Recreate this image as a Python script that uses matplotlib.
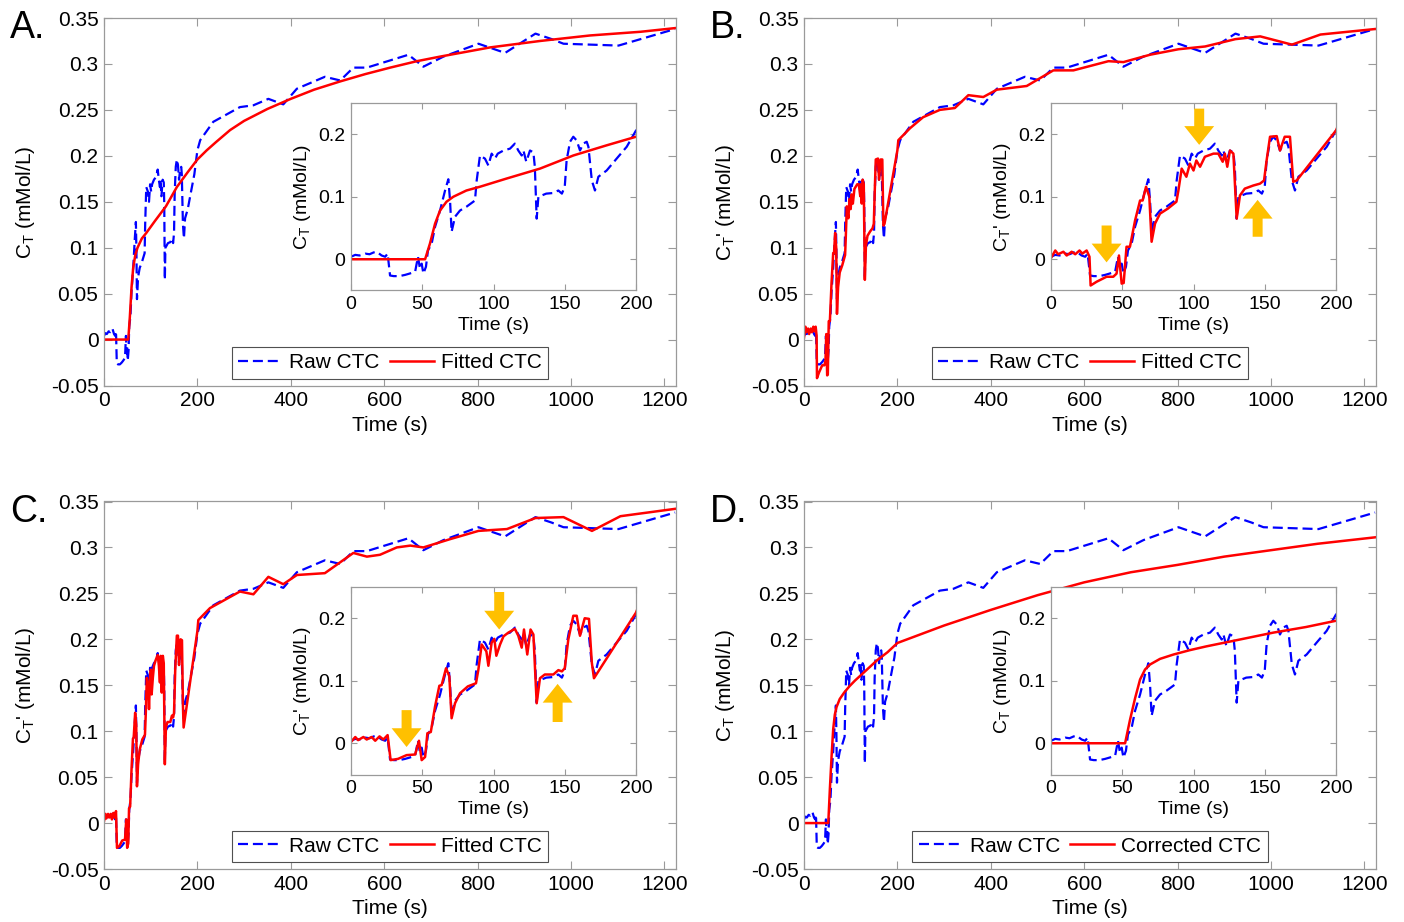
import matplotlib
matplotlib.use("Agg")
import matplotlib.pyplot as plt
from matplotlib.ticker import FuncFormatter, FixedLocator

plt.rcParams['font.family'] = ['Liberation Sans', 'DejaVu Sans']
plt.rcParams['mathtext.fontset'] = 'custom'
plt.rcParams['mathtext.rm'] = 'Liberation Sans'
plt.rcParams['mathtext.it'] = 'Liberation Sans:italic'
plt.rcParams['mathtext.default'] = 'regular'

# ---------------- data ----------------
raw_t = [0, 3, 6, 10, 13, 16, 18, 21.5, 24, 25.7, 27.4, 30, 34, 38, 41, 45, 47, 48.4, 49.6,
         50.8, 52.6, 54, 56.6, 59, 62.5, 66, 68.3, 69.5, 70.6, 73, 76.5, 81, 87, 88.2, 90.5,
         94, 96.4, 98.7, 101, 103, 107, 111.6, 115, 117.4, 119.8, 121, 123, 125.6, 128, 129,
         130.3, 131.5, 133.8, 137, 142, 145.5, 148, 150, 151.3, 153.7, 156, 158.4, 160.7, 163,
         165.4, 166.6, 169, 171.2, 173.6, 179.4, 186.4, 193.5, 200, 206, 234, 291, 320, 352,
         384, 413, 473, 506, 534, 563, 652, 684, 727, 802, 859, 924, 959, 984, 1102, 1223]
raw_v = [0.004, 0.007, 0.006, 0.009, 0.008, 0.011, 0.012, 0.006, 0.004, 0.009, -0.026, -0.027,
         -0.027, -0.025, -0.023, -0.02, 0.004, -0.015, -0.007, -0.023, -0.012, 0.014, 0.025,
         0.052, 0.078, 0.11, 0.128, 0.094, 0.044, 0.068, 0.078, 0.084, 0.094, 0.126, 0.166,
         0.161, 0.15, 0.169, 0.161, 0.169, 0.174, 0.177, 0.185, 0.174, 0.166, 0.174, 0.156,
         0.174, 0.171, 0.148, 0.065, 0.1, 0.102, 0.105, 0.106, 0.11, 0.105, 0.116, 0.158,
         0.188, 0.196, 0.19, 0.174, 0.185, 0.188, 0.18, 0.126, 0.11, 0.132, 0.142, 0.161,
         0.18, 0.206, 0.217, 0.237, 0.253, 0.255, 0.262, 0.256, 0.273, 0.286, 0.282, 0.296,
         0.296, 0.31, 0.297, 0.308, 0.322, 0.312, 0.333, 0.327, 0.322, 0.32, 0.338]

fitA_t = [0, 52, 55.4, 59, 62.5, 67, 71.8, 81, 90.5, 109, 132.6, 156, 179, 200, 220, 240,
          270, 300, 350, 400, 450, 506, 560, 613, 670, 720, 827, 934, 1041, 1149, 1223]
fitA_v = [0, 0, 0.025, 0.057, 0.078, 0.092, 0.1, 0.11, 0.116, 0.129, 0.145, 0.166, 0.182,
          0.196, 0.206, 0.215, 0.228, 0.238, 0.251, 0.262, 0.272, 0.281, 0.289, 0.296, 0.303,
          0.308, 0.318, 0.325, 0.331, 0.335, 0.339]

fitB_t = [0, 3, 5, 8.7, 11, 14.5, 17, 20, 22, 25, 27, 27.8, 32, 39, 43.7, 46, 47.7, 49.6, 51,
          53, 55.4, 59, 62.5, 64.3, 66.7, 69, 70.6, 73, 76.5, 82, 88, 89.4, 91.7, 95, 97.5,
          100, 102, 104.6, 108, 114, 117.4, 120.5, 122, 123.7, 125.6, 128, 130.3, 132.6, 136,
          142, 146.7, 149.5, 151.3, 153.7, 158.4, 160.7, 164, 167.7, 170, 172.4, 200, 202,
          227, 255, 291, 323, 352, 384, 413, 477, 534, 577, 652, 684, 741, 802, 859, 924, 977,
          1045, 1106, 1223]
fitB_v = [0.002, 0.014, 0.008, 0.012, 0.006, 0.012, 0.008, 0.014, 0.009, 0.014, 0.004, -0.042,
          -0.036, -0.028, -0.028, -0.023, 0.006, -0.039, -0.038, 0.02, 0.02, 0.062, 0.094,
          0.094, 0.116, 0.1, 0.028, 0.057, 0.073, 0.081, 0.092, 0.11, 0.145, 0.132, 0.153,
          0.142, 0.158, 0.148, 0.164, 0.169, 0.169, 0.156, 0.169, 0.148, 0.174, 0.169, 0.065,
          0.102, 0.113, 0.118, 0.121, 0.126, 0.158, 0.196, 0.197, 0.174, 0.196, 0.196, 0.124,
          0.126, 0.206, 0.217, 0.23, 0.242, 0.25, 0.252, 0.266, 0.264, 0.272, 0.276, 0.293,
          0.293, 0.303, 0.302, 0.31, 0.316, 0.319, 0.327, 0.33, 0.321, 0.332, 0.338]

fitC_t = [0, 3, 5, 8.7, 11, 14.5, 17, 20, 22.7, 25.7, 27.8, 33, 39, 45, 47.7, 49.6, 52, 53.6,
          56, 59, 62, 63.6, 66.7, 69, 70.6, 73, 76.5, 82, 87.7, 89.4, 91.7, 95, 96.4, 98.7,
          100.6, 102, 104.6, 107, 110.4, 115, 117.4, 119.8, 121.4, 123.7, 126, 128, 130.3,
          132.6, 136, 142, 145.5, 148, 150, 152.5, 156, 158.4, 160.7, 164, 167, 169, 170.5,
          200, 202, 227, 291, 320, 352, 384, 413, 473, 534, 563, 591, 627, 656, 684, 741, 802,
          863, 924, 984, 1045, 1106, 1223]
fitC_v = [0.002, 0.01, 0.005, 0.01, 0.006, 0.01, 0.004, 0.011, 0.006, 0.013, -0.027, -0.025,
          -0.019, -0.018, 0.004, -0.027, -0.022, 0.016, 0.018, 0.059, 0.092, 0.093, 0.12,
          0.107, 0.04, 0.064, 0.08, 0.091, 0.096, 0.118, 0.158, 0.147, 0.124, 0.161, 0.167,
          0.14, 0.158, 0.171, 0.177, 0.183, 0.172, 0.153, 0.182, 0.142, 0.182, 0.174, 0.064,
          0.104, 0.11, 0.11, 0.117, 0.115, 0.12, 0.166, 0.204, 0.204, 0.172, 0.2, 0.199,
          0.129, 0.104, 0.209, 0.221, 0.234, 0.252, 0.249, 0.268, 0.26, 0.27, 0.272, 0.294,
          0.29, 0.292, 0.3, 0.302, 0.3, 0.309, 0.318, 0.32, 0.332, 0.333, 0.318, 0.334, 0.342]

corrD_t = [0, 52, 55.4, 59, 62.5, 66, 69.5, 76.5, 86, 97.5, 109, 132.6, 156, 179, 200, 300,
           400, 500, 600, 700, 800, 900, 1000, 1100, 1223]
corrD_v = [0, 0, 0.037, 0.072, 0.102, 0.118, 0.126, 0.135, 0.142, 0.149, 0.155, 0.166, 0.177,
           0.186, 0.196, 0.215, 0.232, 0.248, 0.262, 0.273, 0.281, 0.29, 0.297, 0.304, 0.311]

# arrows: (time, tail value, tip value)
arrowsB = [(39, 0.054, -0.005), (104, 0.241, 0.183), (145, 0.036, 0.095)]
arrowsC = [(39, 0.053, -0.006), (104, 0.242, 0.182), (145, 0.034, 0.095)]

main_xticks = [0, 200, 400, 600, 800, 1000, 1200]
main_yticks = [-0.05, 0, 0.05, 0.1, 0.15, 0.2, 0.25, 0.3, 0.35]
ins_xticks = [0, 50, 100, 150, 200]
ins_yticks = [0, 0.1, 0.2]

# ---------------- figure ----------------
W, H = 1404, 922
fig = plt.figure(figsize=(W / 100, H / 100), dpi=100)

BLUE = '#0000FF'
RED = '#FF0000'
GOLD = '#FFC000'
SPINE = '#9A9A9A'
fmt = FuncFormatter(lambda x, _: '%g' % round(x, 4))


def px_axes(l, r, t, b):
    return fig.add_axes([l / W, 1 - b / H, (r - l) / W, (b - t) / H])


def style(ax, fs, tl):
    for s in ax.spines.values():
        s.set_color(SPINE)
        s.set_linewidth(0.9)
    ax.tick_params(direction='in', length=tl, width=0.8, color=SPINE, labelsize=fs,
                   top=True, right=True, pad=4)
    ax.xaxis.set_major_formatter(fmt)
    ax.yaxis.set_major_formatter(fmt)


def draw_raw(ax):
    return ax.plot(raw_t, raw_v, color=BLUE, lw=1.6, ls=(0, (4.5, 2.2)), label='Raw CTC')[0]


def make_main(l, t, ylabel):
    ax = px_axes(l, l + 572, t, t + 367.5)
    style(ax, 15, 6)
    ax.set_xlim(0, 1225)
    ax.set_ylim(-0.05, 0.35)
    ax.xaxis.set_major_locator(FixedLocator(main_xticks))
    ax.yaxis.set_major_locator(FixedLocator(main_yticks))
    ax.set_xlabel('Time (s)', fontsize=15, labelpad=4)
    ax.set_ylabel(ylabel, fontsize=15)
    ax.yaxis.set_label_coords(-0.118, 0.5)
    return ax


def make_inset(l, t, ylabel):
    ax = px_axes(l, l + 285, t, t + 187.5)
    style(ax, 14, 4)
    ax.set_xlim(0, 200)
    ax.set_ylim(-0.05, 0.25)
    ax.xaxis.set_major_locator(FixedLocator(ins_xticks))
    ax.yaxis.set_major_locator(FixedLocator(ins_yticks))
    ax.set_xlabel('Time (s)', fontsize=14, labelpad=3)
    ax.set_ylabel(ylabel, fontsize=14)
    ax.yaxis.set_label_coords(-0.135, 0.5)
    ax.set_zorder(5)
    return ax


def add_arrows(ax, arrows):
    for (x, y0, y1) in arrows:
        ax.arrow(x, y0, 0, y1 - y0, width=7, head_width=21, head_length=0.03,
                 length_includes_head=True, color=GOLD, lw=0, zorder=6)


def add_legend(ax, handles, labels, cx):
    leg = ax.legend(handles, labels, loc='lower center', bbox_to_anchor=(cx, 0.019), ncol=2,
                    fontsize=15, handlelength=2.1, handletextpad=0.35, columnspacing=0.5,
                    borderpad=0.3, borderaxespad=0, fancybox=False, framealpha=1)
    leg.get_frame().set_edgecolor('#505050')
    leg.get_frame().set_linewidth(0.8)


yl = r'C$_T$ (mMol/L)'
ylp = r"C$_T$' (mMol/L)"

panels = [
    ('A.', 104, 18, 351, 103, yl, fitA_t, fitA_v, 'Fitted CTC', None),
    ('B.', 804, 18, 1051, 103, ylp, fitB_t, fitB_v, 'Fitted CTC', arrowsB),
    ('C.', 104, 501.5, 351, 587, ylp, fitC_t, fitC_v, 'Fitted CTC', arrowsC),
    ('D.', 804, 501.5, 1051, 587, yl, corrD_t, corrD_v, 'Corrected CTC', None),
]

for name, ml, mt, il, it, ylab, ft, fv, flab, arrows in panels:
    ax = make_main(ml, mt, ylab)
    hb = draw_raw(ax)
    hr = ax.plot(ft, fv, color=RED, lw=1.8, label=flab)[0]
    add_legend(ax, [hb, hr], ['Raw CTC', flab], 0.5)
    ins = make_inset(il, it, ylab)
    draw_raw(ins)
    ins.plot(ft, fv, color=RED, lw=1.8)
    if arrows:
        add_arrows(ins, arrows)
    fig.text((ml - 94) / W, 1 - (mt + 10) / H, name, fontsize=27, ha='left', va='center')

fig.savefig('out.png', dpi=100)
